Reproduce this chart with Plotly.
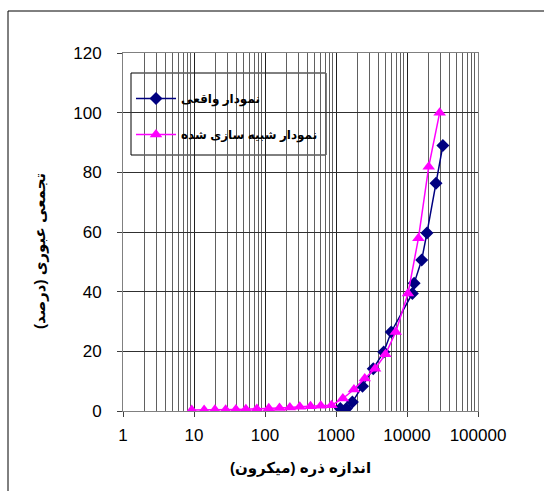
import plotly.graph_objects as go

# Measured grading curve
measured_size = [1150, 1400, 1700, 2360, 3350, 4700, 6000, 11900, 12600,
                 16100, 19100, 25600, 32000]
measured_pass = [0.8, 0.8, 3.0, 8.3, 14.2, 19.8, 26.5, 39.4, 42.8,
                 50.6, 59.7, 76.3, 89.0]

# Simulated grading curve
sim_size = [9.3, 13.9, 19.7, 27.9, 38.9, 53.8, 76.8, 113, 160, 224, 309, 438,
            611, 864, 1250, 1790, 2540, 3550, 4970, 6940, 10330, 14480,
            20230, 28860]
sim_pass = [0.3, 0.3, 0.4, 0.4, 0.5, 0.6, 0.7, 0.9, 1.0, 1.2, 1.4, 1.6,
            1.8, 1.9, 4.2, 7.2, 10.9, 14.2, 19.0, 26.5, 39.4, 57.9,
            81.9, 100.0]

x_ticks = [1, 10, 100, 1000, 10000, 100000]
x_tick_text = ["1", "10", "100", "1000", "10000", "100000"]
y_ticks = [0, 20, 40, 60, 80, 100, 120]

name_measured = "نمودار واقعی"
name_sim = "نمودار شبیه سازی شده"
x_title = "اندازه ذره (میکرون)"
y_title = "تجمعی عبوری (درصد)"

FONT = "Arial, 'Liberation Sans', 'DejaVu Sans', sans-serif"

minor_vals = [m * 10 ** k for k in range(0, 5) for m in range(2, 10)]

fig = go.Figure()
fig.add_trace(go.Scatter(
    x=measured_size, y=measured_pass, mode="lines+markers", name=name_measured,
    legendgroup="a",
    line=dict(color="#000080", width=1.5),
    marker=dict(symbol="diamond", size=10, color="#000080"),
))
fig.add_trace(go.Scatter(
    x=sim_size, y=sim_pass, mode="lines+markers", name=name_sim,
    legendgroup="b",
    line=dict(color="#FF00FF", width=1.5),
    marker=dict(symbol="triangle-up", size=11, color="#FF00FF"),
))

L, R, T, B = 123, 66, 53, 80
W, H = 544, 491
pw, ph = W - L - R, H - T - B


def px_x(p):
    return (p - L) / pw


def px_y(p):
    return 1 - (p - T) / ph


fig.update_layout(
    width=W, height=H,
    margin=dict(l=L, r=R, t=T, b=B),
    paper_bgcolor="white", plot_bgcolor="white",
    font=dict(family=FONT, size=15, color="black"),
    showlegend=True,
    legend=dict(
        x=px_x(131), y=px_y(84), xanchor="left", yanchor="top",
        bgcolor="rgba(0,0,0,0)", borderwidth=0,
        font=dict(family=FONT, size=12, color="black", weight="bold"),
        traceorder="grouped", tracegroupgap=17,
        itemwidth=40,
    ),
    xaxis=dict(
        type="log", range=[0, 5],
        tickvals=x_ticks, ticktext=x_tick_text,
        ticks="outside", ticklen=5, tickcolor="#404040",
        ticklabelstandoff=4,
        showgrid=True, gridcolor="#202020", gridwidth=1,
        minor=dict(tickvals=minor_vals, showgrid=True, gridcolor="#606060",
                   gridwidth=1, ticks=""),
        showline=True, linecolor="#808080", linewidth=1, mirror=True,
        zeroline=False,
        tickfont=dict(size=17),
        title=dict(text=x_title, font=dict(size=15, weight="bold"), standoff=18),
    ),
    yaxis=dict(
        range=[0, 120], tickvals=y_ticks,
        ticks="outside", ticklen=5, tickcolor="#404040",
        ticklabelstandoff=12,
        showgrid=True, gridcolor="#303030", gridwidth=1,
        showline=True, linecolor="#808080", linewidth=1, mirror=True,
        zeroline=False,
        tickfont=dict(size=17),
    ),
)

# Y-axis title placed as a rotated annotation
fig.add_annotation(
    text=y_title, xref="paper", yref="paper",
    x=px_x(40), y=px_y(251), xanchor="center", yanchor="middle",
    textangle=-90, showarrow=False,
    font=dict(family=FONT, size=15, color="black", weight="bold"),
)

# Legend frame
fig.add_shape(type="rect", xref="paper", yref="paper", layer="between",
              x0=px_x(131), x1=px_x(326), y0=px_y(155), y1=px_y(73),
              fillcolor="white", line=dict(color="black", width=1))

# Chart-area frame (left and top edges visible)
bx = px_x(8)
by = px_y(11)
fig.add_shape(type="line", xref="paper", yref="paper",
              x0=bx, x1=bx, y0=by, y1=-0.5,
              line=dict(color="black", width=1))
fig.add_shape(type="line", xref="paper", yref="paper",
              x0=bx, x1=1.5, y0=by, y1=by,
              line=dict(color="black", width=1))

fig.write_html("out.html")
